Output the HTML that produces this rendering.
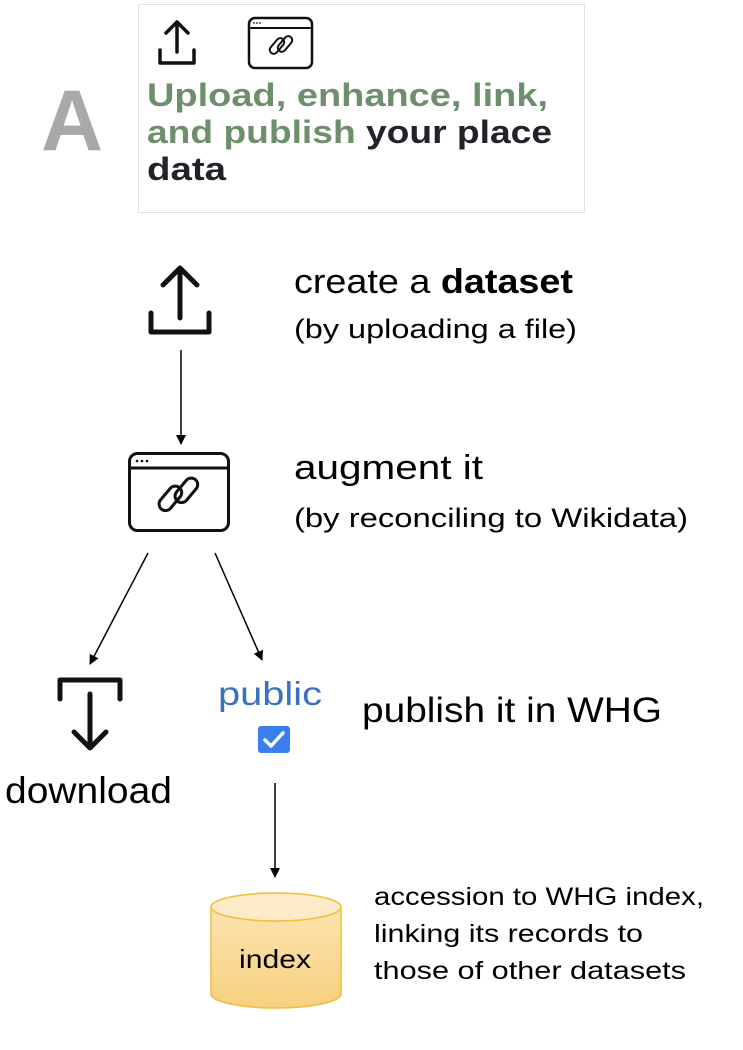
<!DOCTYPE html>
<html><head><meta charset="utf-8"><style>
html,body{margin:0;padding:0;background:#fff;}
svg{display:block;}
text{font-family:"Liberation Sans","DejaVu Sans",sans-serif;}
</style></head><body>
<svg width="743" height="1050" viewBox="0 0 743 1050" xmlns="http://www.w3.org/2000/svg">
<defs>
<marker id="ah" markerWidth="10" markerHeight="10" refX="9" refY="5" orient="auto" markerUnits="userSpaceOnUse">
<path d="M0,0 L10,5 L0,10 Z" fill="#000"/></marker>
<linearGradient id="cyl" x1="0" y1="0" x2="0" y2="1"><stop offset="0" stop-color="#fbe4b0"/><stop offset="1" stop-color="#f7d07e"/></linearGradient>
</defs>
<rect x="138.5" y="4.5" width="446" height="208" fill="#fff" stroke="#dde0e8" stroke-width="1"/>
<text x="72" y="150" text-anchor="middle" font-size="86" font-weight="bold" fill="#aaa9a9">A</text>
<g fill="none" stroke="#111" stroke-width="3.5" stroke-linecap="round" stroke-linejoin="round">
<path d="M177,52 V22 M166,33 L177,22 L188,33"/>
<path d="M160,50 V63 H194 V50"/>
<rect x="249" y="18" width="63" height="50" rx="6" stroke-width="2.5"/>
<line x1="251" y1="28" x2="310" y2="28" stroke-width="2"/>
<rect x="268" y="42" width="18" height="8" rx="4" transform="rotate(-50 277 46)" stroke-width="2"/>
<rect x="276" y="40" width="18" height="8" rx="4" transform="rotate(-50 285 44)" stroke-width="2"/>
</g>
<g fill="#111"><circle cx="254" cy="23" r="0.9"/><circle cx="257" cy="23" r="0.9"/><circle cx="260" cy="23" r="0.9"/></g>
<g font-size="32" font-weight="bold">
<text x="147" y="106" fill="#6e8f6c" textLength="401" lengthAdjust="spacingAndGlyphs">Upload, enhance, link,</text>
<text x="147" y="143" fill="#6e8f6c" textLength="405" lengthAdjust="spacingAndGlyphs">and publish <tspan fill="#22232a">your place</tspan></text>
<text x="147" y="180" fill="#22232a" textLength="79" lengthAdjust="spacingAndGlyphs">data</text>
</g>
<g fill="none" stroke="#111" stroke-width="5" stroke-linecap="round" stroke-linejoin="round">
<path d="M180,318 V268 M163,285 L180,268 L197,285"/>
<path d="M151,313 V332 H209 V313"/>
</g>
<text x="294" y="293" font-size="34" fill="#000" textLength="279" lengthAdjust="spacingAndGlyphs">create a <tspan font-weight="bold">dataset</tspan></text>
<text x="294" y="338" font-size="27" fill="#000" textLength="283" lengthAdjust="spacingAndGlyphs">(by uploading a file)</text>
<line x1="181" y1="350" x2="181" y2="444" stroke="#000" stroke-width="1.5" marker-end="url(#ah)"/>
<g fill="none" stroke="#111" stroke-linecap="round">
<rect x="129.5" y="453.5" width="99" height="77" rx="8" stroke-width="3"/>
<line x1="131" y1="468" x2="227" y2="468" stroke-width="3"/>
<rect x="156" y="492" width="28" height="13" rx="6.5" transform="rotate(-50 170 498)" stroke-width="3"/>
<rect x="172" y="484" width="28" height="13" rx="6.5" transform="rotate(-50 186 490)" stroke-width="3"/>
</g>
<g fill="#111"><circle cx="137" cy="461" r="1.3"/><circle cx="142" cy="461" r="1.3"/><circle cx="147" cy="461" r="1.3"/></g>
<text x="294" y="479" font-size="34" fill="#000" textLength="189" lengthAdjust="spacingAndGlyphs">augment it</text>
<text x="294" y="527" font-size="27" fill="#000" textLength="394" lengthAdjust="spacingAndGlyphs">(by reconciling to Wikidata)</text>
<line x1="148" y1="553" x2="90" y2="664" stroke="#000" stroke-width="1.5" marker-end="url(#ah)"/>
<line x1="215" y1="553" x2="262" y2="660" stroke="#000" stroke-width="1.5" marker-end="url(#ah)"/>
<g fill="none" stroke="#111" stroke-width="5" stroke-linecap="round" stroke-linejoin="round">
<path d="M60,699 V680 H120 V699"/>
<path d="M90,694 V748 M74,732 L90,748 L106,732"/>
</g>
<text x="5" y="803" font-size="37" fill="#000" textLength="167" lengthAdjust="spacingAndGlyphs">download</text>
<text x="218" y="705" font-size="33" fill="#3a72c0" textLength="104" lengthAdjust="spacingAndGlyphs">public</text>
<rect x="258" y="726" width="32" height="27" rx="3" fill="#3b7ef0"/>
<path d="M265,740 L271,746 L283,733" fill="none" stroke="#fff" stroke-width="3.5" stroke-linecap="round" stroke-linejoin="round"/>
<text x="362" y="722" font-size="35" fill="#000" textLength="300" lengthAdjust="spacingAndGlyphs">publish it in WHG</text>
<line x1="275" y1="783" x2="275" y2="877" stroke="#000" stroke-width="1.5" marker-end="url(#ah)"/>
<path d="M211,907 V994 A65,14 0 0 0 341,994 V907" fill="url(#cyl)" stroke="#f0bd3c" stroke-width="1.5"/>
<ellipse cx="276" cy="907" rx="65" ry="14" fill="#fcebc6" stroke="#f0bd3c" stroke-width="1.5"/>
<text x="239" y="968" font-size="26" fill="#000" textLength="72" lengthAdjust="spacingAndGlyphs">index</text>
<g font-size="25" fill="#000">
<text x="374" y="905" textLength="330" lengthAdjust="spacingAndGlyphs">accession to WHG index,</text>
<text x="374" y="942" textLength="269" lengthAdjust="spacingAndGlyphs">linking its records to</text>
<text x="374" y="979" textLength="312" lengthAdjust="spacingAndGlyphs">those of other datasets</text>
</g>
</svg>
</body></html>
